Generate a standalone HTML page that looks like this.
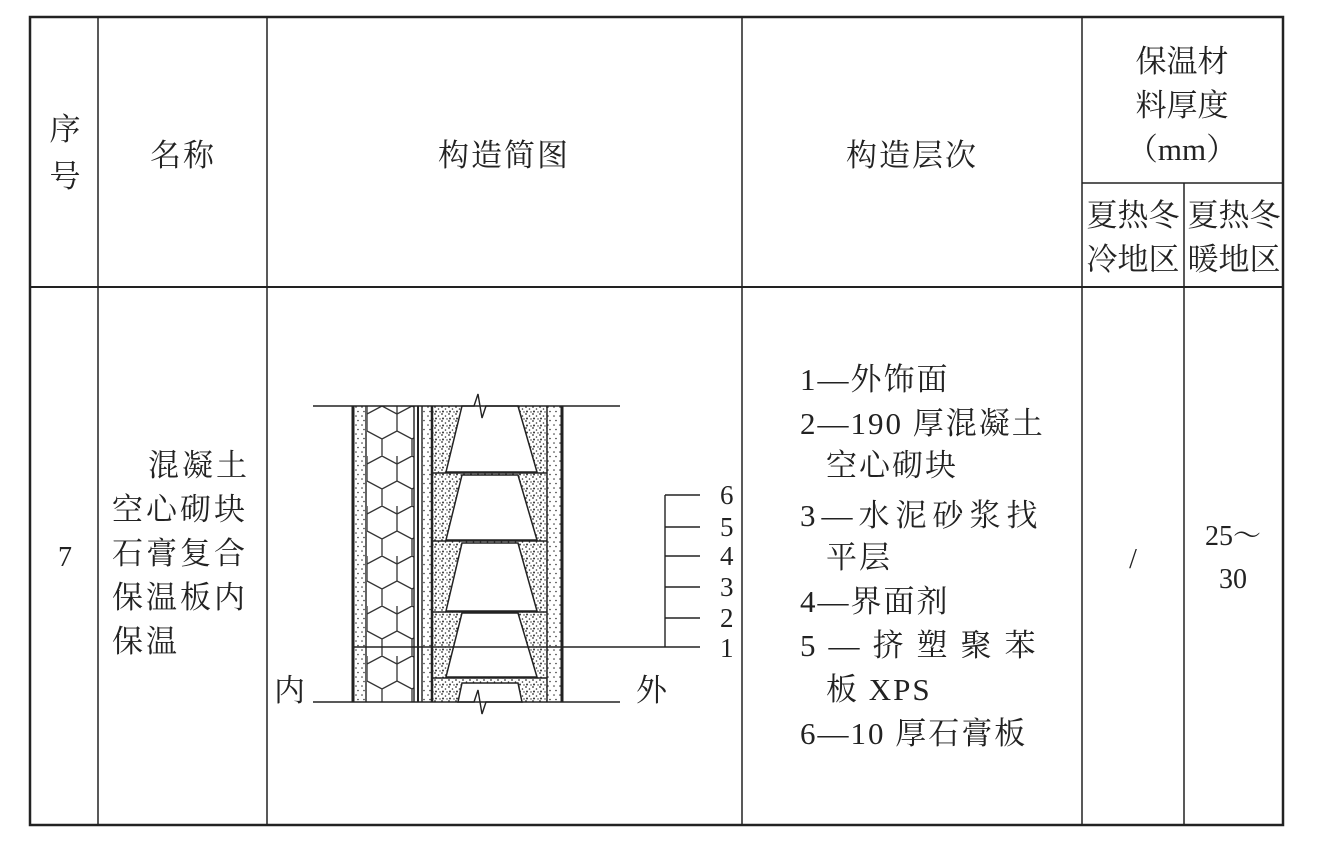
<!DOCTYPE html>
<html><head><meta charset="utf-8"><style>
html,body{margin:0;padding:0;background:#fff;}
svg{display:block;}
text{font-family:"Liberation Serif","Noto Serif CJK SC",serif;fill:#222;}
</style></head><body>
<svg width="1318" height="847" viewBox="0 0 1318 847" xmlns="http://www.w3.org/2000/svg">
<defs>
<pattern id="dots" width="7" height="7" patternUnits="userSpaceOnUse">
<circle cx="1" cy="1" r="0.9" fill="#333"/><circle cx="4.5" cy="3" r="0.8" fill="#333"/><circle cx="2" cy="5.5" r="1" fill="#333"/><circle cx="6" cy="6" r="0.7" fill="#333"/>
</pattern>
<pattern id="fdots" width="6" height="9" patternUnits="userSpaceOnUse">
<circle cx="2" cy="2" r="0.8" fill="#333"/><circle cx="4" cy="6.5" r="0.8" fill="#333"/>
</pattern>
<pattern id="hex" x="367" y="406" width="30" height="50" patternUnits="userSpaceOnUse">
<path d="M15,0 L30,8 L30,25 L15,33 L0,25 L0,8 Z M15,33 L15,50 M0,8 L0,0 M30,8 L30,0" fill="none" stroke="#333" stroke-width="1.3"/>
</pattern>
</defs>
<g stroke="#222" fill="none">
<rect x="30" y="17" width="1253" height="808" stroke-width="2.5"/>
<line x1="98" y1="17" x2="98" y2="825" stroke-width="1.5"/>
<line x1="267" y1="17" x2="267" y2="825" stroke-width="1.5"/>
<line x1="742" y1="17" x2="742" y2="825" stroke-width="1.5"/>
<line x1="1082" y1="17" x2="1082" y2="825" stroke-width="1.5"/>
<line x1="1184" y1="183" x2="1184" y2="825" stroke-width="1.5"/>
<line x1="1082" y1="183" x2="1283" y2="183" stroke-width="1.5"/>
<line x1="30" y1="287" x2="1283" y2="287" stroke-width="2"/>
</g>
<g font-size="31">
<text x="65" y="140" text-anchor="middle">序</text>
<text x="65" y="187" text-anchor="middle">号</text>
<text x="183" y="166" text-anchor="middle" letter-spacing="2">名称</text>
<text x="504" y="166" text-anchor="middle" letter-spacing="2">构造简图</text>
<text x="912" y="166" text-anchor="middle" letter-spacing="2">构造层次</text>
<text x="1182" y="72" text-anchor="middle">保温材</text>
<text x="1182" y="116" text-anchor="middle">料厚度</text>
<text x="1182" y="160" text-anchor="middle">（mm）</text>
<text x="1133" y="226" text-anchor="middle">夏热冬</text>
<text x="1133" y="270" text-anchor="middle">冷地区</text>
<text x="1234" y="226" text-anchor="middle">夏热冬</text>
<text x="1234" y="270" text-anchor="middle">暖地区</text>
<text x="65" y="566" text-anchor="middle" font-size="28">7</text>
<g letter-spacing="3">
<text x="148" y="476">混凝土</text>
<text x="112" y="520">空心砌块</text>
<text x="112" y="564">石膏复合</text>
<text x="112" y="608">保温板内</text>
<text x="112" y="652">保温</text>
</g>
<g letter-spacing="2">
<text x="800" y="390">1—外饰面</text>
<text x="800" y="434">2—190 厚混凝土</text>
<text x="826" y="476">空心砌块</text>
<text x="800" y="526" letter-spacing="6">3—水泥砂浆找</text>
<text x="826" y="568">平层</text>
<text x="800" y="612">4—界面剂</text>
<text x="800" y="656" letter-spacing="13">5—挤塑聚苯</text>
<text x="826" y="700">板 XPS</text>
<text x="800" y="744">6—10 厚石膏板</text>
</g>
<text x="1133" y="568" text-anchor="middle" font-size="28">/</text>
<text x="1233" y="545" text-anchor="middle" font-size="28">25～</text>
<text x="1233" y="588" text-anchor="middle" font-size="28">30</text>
<text x="274" y="701">内</text>
<text x="636" y="701">外</text>
</g>
<g font-size="27">
<text x="720" y="504">6</text><text x="720" y="536">5</text><text x="720" y="565">4</text>
<text x="720" y="596">3</text><text x="720" y="627">2</text><text x="720" y="657">1</text>
</g>
<rect x="355" y="406" width="10" height="296" fill="url(#fdots)"/>
<rect x="367" y="406" width="47" height="296" fill="url(#hex)"/>
<rect x="422" y="406" width="10" height="296" fill="url(#fdots)"/>
<rect x="432" y="406" width="115" height="296" fill="url(#dots)"/>
<rect x="547" y="406" width="16" height="296" fill="url(#fdots)"/>
<g fill="#fff" stroke="#222" stroke-width="1.5">
<polygon points="462,406 518,406 537,472 446,472"/>
<polygon points="462,475 518,475 537,540 446,540"/>
<polygon points="462,543 518,543 537,611 446,611"/>
<polygon points="462,613 518,613 537,677 446,677"/>
<polygon points="462,683 518,683 522,702 458,702"/>
</g>
<g stroke="#222" stroke-width="1.4" fill="none">
<line x1="432" y1="473" x2="547" y2="473"/><line x1="432" y1="541" x2="547" y2="541"/>
<line x1="432" y1="612" x2="547" y2="612"/><line x1="432" y1="678" x2="547" y2="678"/>
<line x1="353" y1="406" x2="353" y2="702" stroke-width="3"/>
<line x1="366" y1="406" x2="366" y2="702"/>
<line x1="414" y1="406" x2="414" y2="702"/>
<line x1="418" y1="406" x2="418" y2="702" stroke-width="2"/>
<line x1="422" y1="406" x2="422" y2="702"/>
<line x1="432" y1="406" x2="432" y2="702" stroke-width="2.5"/>
<line x1="547" y1="406" x2="547" y2="702" stroke-width="1.5"/>
<line x1="562" y1="406" x2="562" y2="702" stroke-width="3"/>
<polyline points="313,406 474,406 478,394 482,418 486,406 620,406"/>
<polyline points="313,702 474,702 478,690 482,714 486,702 620,702"/>
<line x1="352" y1="647" x2="700" y2="647"/>
<line x1="665" y1="495" x2="665" y2="647"/>
<line x1="665" y1="495" x2="700" y2="495"/><line x1="665" y1="527" x2="700" y2="527"/>
<line x1="665" y1="556" x2="700" y2="556"/><line x1="665" y1="587" x2="700" y2="587"/>
<line x1="665" y1="618" x2="700" y2="618"/>
</g>
</svg>
</body></html>
